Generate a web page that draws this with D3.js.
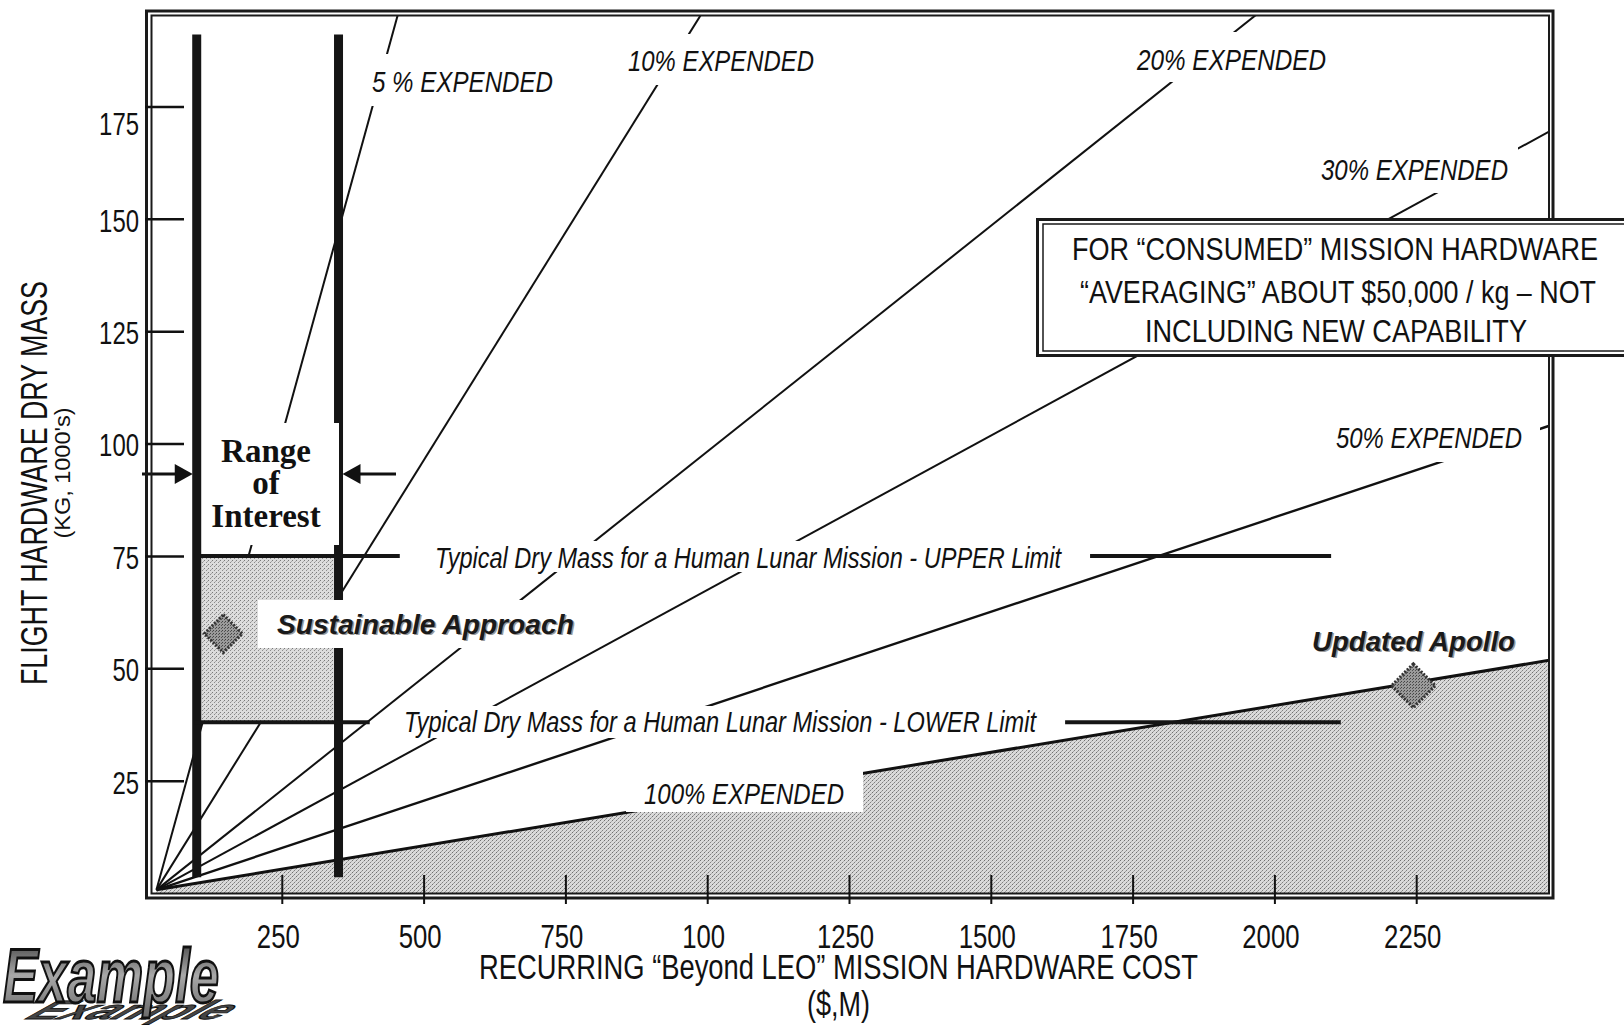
<!DOCTYPE html>
<html><head><meta charset="utf-8">
<script src="https://cdn.jsdelivr.net/npm/d3@7"></script>
<style>body{margin:0;background:#fff} svg{display:block}</style>
</head><body>
<svg id="c" width="1624" height="1025"></svg>
<script>
// ---------------- DATA ----------------
const xTickValues = [250, 500, 750, 1000, 1250, 1500, 1750, 2000, 2250];
const xTickLabels = ["250", "500", "750", "100", "1250", "1500", "1750", "2000", "2250"];
const yTickValues = [25, 50, 75, 100, 125, 150, 175];
const yTickLabels = ["25", "50", "75", "100", "125", "150", "175"];

// "% expended" lines: common start point, end point ($M, kg 1000's)
const expendedPct = [5, 10, 20, 30, 50, 100];
const expendedLabels = ["5 %  EXPENDED", "10%  EXPENDED", "20%  EXPENDED", "30%  EXPENDED", "50%  EXPENDED", "100%  EXPENDED"];
const lineStart = [29, 0.7];
const lineEndCost = [455, 990, 1970, 2486, 2486, 2486];
const lineEndMass = [195.6, 195.6, 195.6, 169.5, 104, 51.8];

// range of interest (cost, $M) and vertical extent of bars
const rangeCost = [100, 350];
const rangeMass = [3.5, 191];

// typical dry mass limits (kg 1000's) and their line segments ($M)
const limitNames = ["UPPER", "LOWER"];
const limitMass = [75, 38];
const limitLabels = ["Typical Dry Mass for a Human Lunar Mission - UPPER  Limit",
                     "Typical Dry Mass for a Human Lunar  Mission - LOWER Limit"];
const limitSegLeft = [[96, 458], [96, 405]];
const limitSegRight = [[1675, 2100], [1631, 2117]];

// points
const pointNames = ["Sustainable Approach", "Updated Apollo"];
const pointCost = [147, 2245];
const pointMass = [57.7, 46.1];

const noteLines = ["FOR \u201CCONSUMED\u201D MISSION HARDWARE",
                   "\u201CAVERAGING\u201D ABOUT $50,000 / kg \u2013 NOT",
                   "INCLUDING NEW CAPABILITY"];

// ---------------- LAYOUT ----------------
const NARROW = "'Liberation Sans Narrow','Arial Narrow','Liberation Sans',Arial,sans-serif";
const SANS = "'Liberation Sans',Arial,sans-serif";
const SERIF = "'Liberation Serif','Times New Roman',serif";

const svg = d3.select("#c");
const x = d3.scaleLinear().domain([0, 2500]).range([140, 1558]);
const y = d3.scaleLinear().domain([0, 175]).range([893, 106.4]);

const frameOuter = {x1: 146.5, y1: 11, x2: 1553, y2: 898};
const frameInner = {x1: 151.5, y1: 15.5, x2: 1549, y2: 893.5};

const expLabelBox = [[370, 54, 556, 106], [626, 34, 818, 85], [1135, 32, 1330, 82],
                     [1316, 147, 1518, 193], [1333, 410, 1540, 462], [626, 760, 863, 812]];
const expLabelText = [[372, 553, 81], [628, 814, 60], [1137, 1326, 59],
                      [1321, 1508, 169], [1336, 1522, 437], [644, 844, 793]];

// ---------------- DEFS ----------------
const defs = svg.append("defs");
function makePat(id, size, base, dots) {
  const p = defs.append("pattern").attr("id", id).attr("width", size).attr("height", size)
    .attr("patternUnits", "userSpaceOnUse");
  p.append("rect").attr("width", size).attr("height", size).attr("fill", base);
  dots.forEach(d => p.append("rect").attr("x", d[0]).attr("y", d[1]).attr("width", 1).attr("height", 1).attr("fill", d[2]));
}
makePat("stip", 4, "#dadada", [[0,0,"#707070"],[2,2,"#808080"],[1,3,"#a0a0a0"],[3,1,"#b0b0b0"]]);
makePat("stip2", 4, "#dcdcdc", [[0,0,"#7a7a7a"],[2,2,"#8c8c8c"],[3,1,"#aaa"]]);
makePat("stip3", 3, "#9a9a9a", [[0,0,"#444"],[2,1,"#555"]]);

defs.append("clipPath").attr("id", "clipF").append("rect")
  .attr("x", frameInner.x1).attr("y", frameInner.y1)
  .attr("width", frameInner.x2 - frameInner.x1).attr("height", frameInner.y2 - frameInner.y1);

const grad = defs.append("linearGradient").attr("id", "exg").attr("x1", 0).attr("y1", 0).attr("x2", 0).attr("y2", 1);
grad.append("stop").attr("offset", "0%").attr("stop-color", "#333");
grad.append("stop").attr("offset", "50%").attr("stop-color", "#a8a8a8");
grad.append("stop").attr("offset", "100%").attr("stop-color", "#6a6a6a");

svg.append("rect").attr("width", 1624).attr("height", 1025).attr("fill", "#fff");

function txt(g, s, x1, x2, cy, size, o = {}) {
  const t = g.append("text").attr("x", x1).attr("y", cy).attr("dy", "0.35em")
    .attr("font-family", o.family || NARROW).attr("font-size", size)
    .attr("font-style", o.italic ? "italic" : "normal")
    .attr("font-weight", o.bold ? "bold" : "normal")
    .attr("fill", o.fill || "#111").text(s);
  if (x2 != null) t.attr("textLength", x2 - x1).attr("lengthAdjust", "spacingAndGlyphs");
  return t;
}

const plot = svg.append("g").attr("clip-path", "url(#clipF)");

// shaded area under 100% line
const i100 = expendedPct.indexOf(100);
const areaPts = [lineStart, [lineEndCost[i100], lineEndMass[i100]], [lineEndCost[i100], -0.4], [lineStart[0], -0.4]];
plot.append("path").attr("d", d3.line().x(d => x(d[0])).y(d => y(d[1]))(areaPts) + "Z")
  .attr("fill", "url(#stip)");

// expended lines
expendedPct.forEach((p, i) => {
  plot.append("line")
    .attr("x1", x(lineStart[0])).attr("y1", y(lineStart[1]))
    .attr("x2", x(lineEndCost[i])).attr("y2", y(lineEndMass[i]))
    .attr("stroke", "#111")
    .attr("stroke-width", p === 100 ? 3 : (p === 50 ? 2.4 : 2));
});

// sustainable region rect between bars
plot.append("rect")
  .attr("x", x(rangeCost[0]) + 4).attr("y", y(limitMass[0]))
  .attr("width", x(rangeCost[1]) - x(rangeCost[0]) - 8)
  .attr("height", y(limitMass[1]) - y(limitMass[0]))
  .attr("fill", "url(#stip2)");

// range bars
rangeCost.forEach(c => {
  plot.append("line").attr("x1", x(c)).attr("x2", x(c))
    .attr("y1", y(rangeMass[1])).attr("y2", y(rangeMass[0]))
    .attr("stroke", "#151515").attr("stroke-width", 9);
});

// limit line segments
limitMass.forEach((m, i) => {
  [limitSegLeft[i], limitSegRight[i]].forEach(seg => {
    plot.append("line").attr("x1", x(seg[0])).attr("x2", x(seg[1]))
      .attr("y1", y(m)).attr("y2", y(m)).attr("stroke", "#151515").attr("stroke-width", 4);
  });
});

// white label boxes
const boxes = svg.append("g");
function wbox(b) {
  boxes.append("rect").attr("x", b[0]).attr("y", b[1]).attr("width", b[2] - b[0]).attr("height", b[3] - b[1]).attr("fill", "#fff");
}
expLabelBox.forEach(wbox);
wbox([203, 423, 339, 545]);
wbox([258, 600, 582, 648]);
wbox([430, 541, 1066, 572]);
wbox([398, 706, 1040, 738]);

const ann = svg.append("g");
expendedLabels.forEach((s, i) => {
  const t = expLabelText[i];
  txt(ann, s, t[0], t[1], t[2], 30, {italic: true});
});
txt(ann, limitLabels[0], 435, 1061, 557, 30, {italic: true});
txt(ann, limitLabels[1], 404, 1036, 721, 30, {italic: true});

["Range", "of", "Interest"].forEach((s, i) => {
  ann.append("text").attr("x", 266).attr("y", [450, 482, 515][i]).attr("dy", "0.35em")
    .attr("text-anchor", "middle").attr("font-family", SERIF).attr("font-weight", "bold")
    .attr("font-size", 33).attr("fill", "#111").text(s);
});
const ay = 474;
ann.append("line").attr("x1", 142).attr("x2", 180).attr("y1", ay).attr("y2", ay).attr("stroke", "#111").attr("stroke-width", 3);
ann.append("path").attr("d", `M${x(rangeCost[0]) - 4},${ay} L${x(rangeCost[0]) - 22},${ay - 10} L${x(rangeCost[0]) - 22},${ay + 10} Z`).attr("fill", "#111");
ann.append("line").attr("x1", 356).attr("x2", 396).attr("y1", ay).attr("y2", ay).attr("stroke", "#111").attr("stroke-width", 3);
ann.append("path").attr("d", `M${x(rangeCost[1]) + 4},${ay} L${x(rangeCost[1]) + 22},${ay - 10} L${x(rangeCost[1]) + 22},${ay + 10} Z`).attr("fill", "#111");

pointNames.forEach((n, i) => {
  const cx = x(pointCost[i]), cy = y(pointMass[i]);
  const r = i === 0 ? 19 : 22;
  ann.append("path").attr("d", `M${cx},${cy - r} L${cx + r},${cy} L${cx},${cy + r} L${cx - r},${cy} Z`)
    .attr("fill", "url(#stip3)").attr("stroke", "#333").attr("stroke-width", 3).attr("stroke-dasharray", "2,1.5");
});
[[pointNames[0], 277, 574, 624], [pointNames[1], 1312, 1515, 641]].forEach(p => {
  txt(ann, p[0], p[1] + 1.5, p[2] + 1.5, p[3] + 1.5, 28, {italic: true, bold: true, family: SANS, fill: "#999"});
  txt(ann, p[0], p[1], p[2], p[3], 28, {italic: true, bold: true, family: SANS, fill: "#1a1a1a"});
});

// frame
svg.append("rect").attr("x", frameOuter.x1).attr("y", frameOuter.y1)
  .attr("width", frameOuter.x2 - frameOuter.x1).attr("height", frameOuter.y2 - frameOuter.y1)
  .attr("fill", "none").attr("stroke", "#1a1a1a").attr("stroke-width", 3);
svg.append("rect").attr("x", frameInner.x1).attr("y", frameInner.y1)
  .attr("width", frameInner.x2 - frameInner.x1).attr("height", frameInner.y2 - frameInner.y1)
  .attr("fill", "none").attr("stroke", "#1a1a1a").attr("stroke-width", 2);

// y axis ticks
const yAxis = d3.axisRight(y).tickValues(yTickValues).tickSize(39).tickFormat((d, i) => yTickLabels[i]);
const gy = svg.append("g").attr("transform", `translate(145,0)`).call(yAxis);
gy.select(".domain").remove();
gy.selectAll(".tick line").attr("stroke", "#111").attr("stroke-width", 2.5);
gy.selectAll(".tick text").attr("x", -6).attr("text-anchor", "end")
  .attr("font-family", NARROW).attr("font-size", 31).attr("fill", "#111")
  .attr("dy", d => d === 175 ? "0.9em" : "0.4em")
  .attr("textLength", (d, i) => yTickLabels[i].length * 13.3).attr("lengthAdjust", "spacingAndGlyphs");

// x axis ticks
const xAxis = d3.axisTop(x).tickValues(xTickValues).tickSize(29).tickFormat((d, i) => xTickLabels[i]);
const gx = svg.append("g").attr("transform", `translate(0,904)`).call(xAxis);
gx.select(".domain").remove();
gx.selectAll(".tick line").attr("stroke", "#111").attr("stroke-width", 2);
gx.selectAll(".tick text").attr("x", -4).attr("y", 32).attr("dy", "0.35em").attr("text-anchor", "middle")
  .attr("font-family", NARROW).attr("font-size", 33).attr("fill", "#111")
  .attr("textLength", (d, i) => xTickLabels[i].length * 14.3).attr("lengthAdjust", "spacingAndGlyphs");

// note box
const nb = svg.append("g");
nb.append("rect").attr("x", 1037.5).attr("y", 219.5).attr("width", 600).attr("height", 136)
  .attr("fill", "#fff").attr("stroke", "#1a1a1a").attr("stroke-width", 3);
nb.append("rect").attr("x", 1043).attr("y", 224).attr("width", 600).attr("height", 127)
  .attr("fill", "none").attr("stroke", "#1a1a1a").attr("stroke-width", 1.5);
[[1072, 1598, 249], [1080, 1596, 292], [1145, 1527, 331]].forEach((p, i) => {
  txt(nb, noteLines[i], p[0], p[1], p[2], 32);
});

// axis titles
svg.append("text").attr("transform", "translate(34,483) rotate(-90)").attr("dy", "0.35em")
  .attr("text-anchor", "middle").attr("font-family", NARROW).attr("font-size", 37).attr("fill", "#111")
  .attr("textLength", 404).attr("lengthAdjust", "spacingAndGlyphs").text("FLIGHT HARDWARE DRY MASS");
svg.append("text").attr("transform", "translate(62,473) rotate(-90)").attr("dy", "0.35em")
  .attr("text-anchor", "middle").attr("font-family", NARROW).attr("font-size", 22).attr("fill", "#111")
  .attr("textLength", 131).attr("lengthAdjust", "spacingAndGlyphs").text("(KG, 1000's)");
txt(svg, "RECURRING \u201CBeyond LEO\u201D  MISSION HARDWARE COST", 479, 1198, 967, 35);
txt(svg, "($,M)", 807, 870, 1004, 35);

// Example watermark
const ex = svg.append("g");
ex.append("text").attr("transform", "translate(24,1019) scale(1,0.4) skewX(-30)")
  .attr("font-family", SANS).attr("font-weight", "bold").attr("font-style", "italic")
  .attr("font-size", 66).attr("fill", "#444").attr("stroke", "#111").attr("stroke-width", 2)
  .attr("textLength", 196).attr("lengthAdjust", "spacingAndGlyphs").text("Example");
ex.append("text").attr("x", 3).attr("y", 1002)
  .attr("font-family", SANS).attr("font-weight", "bold").attr("font-style", "italic")
  .attr("font-size", 76).attr("fill", "url(#exg)").attr("stroke", "#111").attr("stroke-width", 2.8)
  .attr("textLength", 216).attr("lengthAdjust", "spacingAndGlyphs").text("Example");
</script></body></html>
